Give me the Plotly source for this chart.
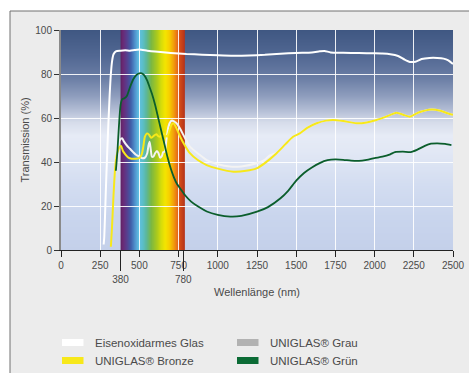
import base64
import struct
import zlib
import plotly.graph_objects as go

# ---------------- data ----------------
series_names = ["Eisenoxidarmes Glas", "UNIGLAS® Grau", "UNIGLAS® Bronze", "UNIGLAS® Grün"]

eisen_x = [272, 276, 285, 295, 302, 310, 318, 326, 335, 350, 380, 410, 440, 470, 500, 550, 600, 700, 800, 900,
           1000, 1100, 1200, 1300, 1400, 1500, 1600, 1650, 1680, 1720, 1800, 1900, 2000, 2050, 2100, 2150, 2190,
           2225, 2260, 2300, 2350, 2400, 2440, 2470, 2500]
eisen_y = [2.5, 6, 25, 45, 57, 70, 80, 86, 89, 90.3, 90.6, 90.8, 90.6, 90.9, 91.1, 90.6, 90.2, 89.6, 89.1, 88.8,
           88.5, 88.3, 88.4, 88.7, 89.2, 89.6, 89.8, 90.3, 90.5, 89.8, 89.7, 89.5, 89.4, 89.3, 89.0, 88.2, 86.6,
           85.5, 85.6, 86.8, 87.3, 87.3, 87.0, 86.2, 84.5]

grau_x = [345, 355, 365, 375, 390, 400, 420, 440, 460, 480, 500, 520, 535, 550, 558, 565, 572, 580, 590, 600,
          612, 622, 632, 642, 652, 662, 672, 685, 700, 712, 725, 737, 758, 790, 822, 880, 929, 1000, 1077, 1150,
          1247, 1300, 1332, 1375, 1430, 1480, 1523, 1570, 1630, 1690, 1736, 1800, 1885, 1950, 2012, 2070, 2140,
          2190, 2224, 2280, 2363, 2420, 2460, 2500]
grau_y = [36, 43, 48.5, 50, 50.8, 49.5, 47.5, 46, 44.5, 43.2, 42.5, 41.7, 42, 44, 47.5, 49.2, 46, 42.4, 42.5, 44,
          45, 44, 42, 42.5, 44.5, 44.7, 50, 56, 58.5, 58.8, 58.2, 57.6, 55.3, 51, 47, 43.5, 40.9, 39, 37.9, 38,
          39.4, 41, 43, 44.2, 48, 51.5, 53, 55.5, 57.6, 58.8, 59.1, 58.6, 57.6, 58, 59.1, 60.5, 62.4,
          61.3, 60.6, 62.5, 63.9, 63.3, 62.3, 61.4]

bronze_x = [318, 325, 335, 345, 355, 365, 375, 383, 395, 410, 430, 450, 480, 500, 515, 525, 535, 548, 560, 575,
            590, 608, 620, 632, 645, 656, 667, 677, 690, 705, 718, 735, 760, 790, 822, 870, 929, 1000, 1100, 1180,
            1247, 1300, 1375, 1430, 1480, 1523, 1570, 1630, 1690, 1736, 1800, 1885, 1950, 2012, 2070, 2140, 2190,
            2224, 2280, 2363, 2420, 2460, 2500]
bronze_y = [1.5, 10, 25, 37, 43, 45.5, 47, 47.3, 45, 43.5, 42, 41.5, 41.5, 41.8, 43.5, 47, 51.5, 53, 52.5, 51,
            51.8, 52.6, 51.8, 51.5, 52.5, 53, 52, 51.5, 54, 57, 57.6, 55.5, 51.5, 47.5, 44, 41, 38.6, 37, 35.6, 36,
            37.1, 39.5, 44, 48, 51.5, 53, 55.5, 57.6, 58.8, 59.1, 58.6, 57.6, 58, 59.1, 60.5, 62.4, 61.3,
            60.6, 62.5, 63.9, 63.3, 62.3, 61.4]

gruen_x = [350, 360, 370, 380, 390, 405, 420, 440, 460, 480, 500, 515, 530, 550, 565, 580, 600, 620, 640, 660,
           680, 700, 720, 740, 760, 790, 830, 880, 930, 1000, 1080, 1150, 1250, 1320, 1400, 1450, 1500, 1550,
           1600, 1650, 1700, 1750, 1800, 1850, 1900, 1950, 2000, 2050, 2100, 2130, 2180, 2230, 2270, 2320, 2360,
           2400, 2450, 2490]
gruen_y = [36, 45, 57, 66, 68.5, 69, 70, 74, 77.5, 79.5, 80.3, 80.3, 79.5, 77, 74, 71, 66, 60, 54, 48,
           42, 37, 33, 30, 28, 25, 22, 19.5, 17.5, 16, 15.2, 15.5, 17.4, 19.5, 23.5, 27, 31.5, 35,
           37.5, 39.5, 40.8, 41.2, 41, 40.6, 40.5, 41, 41.8, 42.4, 43.5, 44.5, 44.7, 44.5, 45.5, 47.3, 48.3,
           48.5, 48.2, 47.7]

x_ticks = [0, 250, 500, 750, 1000, 1250, 1500, 1750, 2000, 2250, 2500]
y_ticks = [0, 20, 40, 60, 80, 100]
band_ticks = [380, 780]
band_range = [380, 790]

# ---------------- styles ----------------
line_colors = ["#ffffff", "#f3f3f3", "#f7e81a", "#0b5e2c"]
swatch_colors = ["#ffffff", "#b2b2b2", "#f7e81a", "#0b6b35"]
line_widths = [2, 2, 2, 1.8]
FONT = "Liberation Sans, Arial, sans-serif"
TXT = "#4a4a4a"

W, H = 469, 373
ML, MR, MT, MB = 61, 16, 30, 123
PW, PH = W - ML - MR, H - MT - MB


def px_x(px):
    return (px - ML) / PW


def px_y(py):
    return (H - MB - py) / PH


def hex2rgb(h):
    h = h.lstrip("#")
    return tuple(int(h[i:i + 2], 16) for i in (0, 2, 4))


def interp(stops, v):
    for (a, ca), (b, cb) in zip(stops[:-1], stops[1:]):
        if a <= v <= b:
            t = (v - a) / (b - a) if b > a else 0
            c1, c2 = hex2rgb(ca), hex2rgb(cb)
            return tuple(round(c1[i] + (c2[i] - c1[i]) * t) for i in range(3))
    return hex2rgb(stops[-1][1])


def png_uri(rows):
    h = len(rows)
    w = len(rows[0])
    raw = b"".join(b"\x00" + bytes([c for px in row for c in px]) for row in rows)

    def chunk(t, d):
        return struct.pack(">I", len(d)) + t + d + struct.pack(">I", zlib.crc32(t + d) & 0xFFFFFFFF)

    png = (b"\x89PNG\r\n\x1a\n" + chunk(b"IHDR", struct.pack(">IIBBBBB", w, h, 8, 2, 0, 0, 0))
           + chunk(b"IDAT", zlib.compress(raw, 9)) + chunk(b"IEND", b""))
    return "data:image/png;base64," + base64.b64encode(png).decode()


bg_stops = [(0, "#c4d0ea"), (15, "#c9d5ed"), (30, "#d3ddf1"), (45, "#e2e8f5"), (52, "#e6ebf6"),
            (58, "#d6dcea"), (63, "#b6c0d7"), (70, "#8e9dbd"), (78, "#6b7ea5"), (88, "#526893"),
            (100, "#3f5782")]
band_stops = [(380, "#5e2262"), (395, "#6a2a76"), (420, "#583e8e"), (445, "#3f5ea8"), (470, "#4f8fcc"),
              (495, "#60bfe2"), (520, "#5bbfcc"), (545, "#5cb79a"), (575, "#7ab843"), (610, "#a8c91e"),
              (640, "#d8dd0a"), (665, "#f4e500"), (690, "#f7d000"), (715, "#f3a50a"), (740, "#e8701a"),
              (760, "#d24a18"), (790, "#b3321a")]

NBG = 220
bg_rows = [[interp(bg_stops, 100 - (i + 0.5) * 100 / NBG)] for i in range(NBG)]
NB = 82
band_w = band_range[1] - band_range[0]
band_rows = [[interp(band_stops, band_range[0] + (j + 0.5) * band_w / NB) for j in range(NB)]]

images = [
    dict(source=png_uri(bg_rows), xref="x", yref="y", x=x_ticks[0], y=y_ticks[-1],
         sizex=x_ticks[-1] - x_ticks[0], sizey=y_ticks[-1] - y_ticks[0], sizing="stretch",
         xanchor="left", yanchor="top", layer="below"),
    dict(source=png_uri(band_rows), xref="x", yref="y", x=band_range[0], y=y_ticks[-1],
         sizex=band_w, sizey=y_ticks[-1] - y_ticks[0], sizing="stretch",
         xanchor="left", yanchor="top", layer="below"),
]

shapes = [dict(type="rect", xref="paper", yref="paper", x0=px_x(10), x1=px_x(472), y0=px_y(376), y1=px_y(11),
               fillcolor="#ececec", line=dict(color="#707070", width=1), layer="below")]

fig = go.Figure()
for name, xs, ys, col, lw in zip(series_names, [eisen_x, grau_x, bronze_x, gruen_x],
                                 [eisen_y, grau_y, bronze_y, gruen_y], line_colors, line_widths):
    fig.add_trace(go.Scatter(x=xs, y=ys, mode="lines", name=name, showlegend=False,
                             line=dict(color=col, width=lw, shape="spline", smoothing=0.6)))
# carrier for the 380/780 band axis
fig.add_trace(go.Scatter(x=band_ticks, y=[0, 0], xaxis="x2", mode="markers", marker=dict(opacity=0),
                         showlegend=False, hoverinfo="skip"))

# manual legend
annotations = []
leg_pos = [(62, 342.5), (237, 342.5), (62, 360.5), (237, 360.5)]
for idx, (lx, ly) in enumerate(leg_pos):
    shapes.append(dict(type="rect", xref="paper", yref="paper", x0=px_x(lx), x1=px_x(lx + 21.5),
                       y0=px_y(ly + 3.5), y1=px_y(ly - 3.5), fillcolor=swatch_colors[idx], line=dict(width=0),
                       layer="above"))
    annotations.append(dict(xref="paper", yref="paper", x=px_x(lx + 31), y=px_y(ly), xanchor="left",
                            yanchor="middle", showarrow=False, text=series_names[idx],
                            font=dict(family=FONT, size=11.5, color=TXT)))

fig.update_layout(
    width=W, height=H,
    margin=dict(l=ML, r=MR, t=MT, b=MB, autoexpand=False),
    paper_bgcolor="#ffffff", plot_bgcolor="#dfe6f3",
    shapes=shapes, annotations=annotations, images=images,
    font=dict(family=FONT, color=TXT),
    xaxis=dict(range=[x_ticks[0], x_ticks[-1]], tickvals=x_ticks, ticks="outside", ticklen=6, tickcolor="#222",
               showgrid=True, gridcolor="rgba(255,255,255,0.9)", gridwidth=1, zeroline=False,
               showline=True, linecolor="#222", linewidth=1, automargin=False,
               tickfont=dict(family=FONT, size=10, color=TXT),
               title=dict(text="Wellenlänge (nm)", standoff=18, font=dict(family=FONT, size=11, color=TXT))),
    xaxis2=dict(range=[x_ticks[0], x_ticks[-1]], overlaying="x", anchor="y", side="bottom",
                tickvals=band_ticks, ticktext=[str(t) for t in band_ticks], ticks="outside", ticklen=20,
                tickcolor="#222", showgrid=False, zeroline=False, showline=False, automargin=False,
                tickfont=dict(family=FONT, size=10, color=TXT)),
    yaxis=dict(range=[y_ticks[0], y_ticks[-1]], tickvals=y_ticks, ticks="outside", ticklen=5, tickcolor="#333",
               showgrid=True, gridcolor="rgba(255,255,255,0.9)", gridwidth=1, zeroline=False,
               showline=True, linecolor="#8a8a8a", linewidth=2, automargin=False,
               tickfont=dict(family=FONT, size=10, color=TXT),
               title=dict(text="Transmission (%)", standoff=3, font=dict(family=FONT, size=11, color=TXT))),
)

fig.write_html("out.html", config={"displayModeBar": False},
               post_script="document.body.style.margin='0px';")
